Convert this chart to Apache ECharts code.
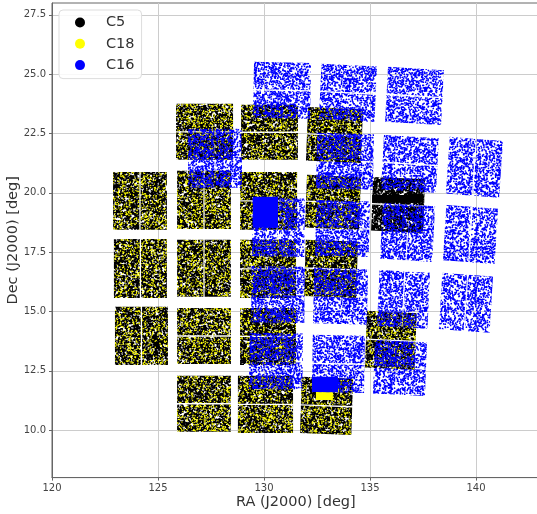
<!DOCTYPE html>
<html><head><meta charset="utf-8">
<style>html,body{margin:0;padding:0;background:#fff}#c{width:537px;height:514px}</style>
<script src="https://cdn.jsdelivr.net/npm/echarts@6/dist/echarts.min.js"></script>
</head><body><div id="c"></div>
<script>
// The reference holds many thousands of individual stars, which cannot be read one by one.
// The speckle inside a footprint is a decorative fill texture, not star positions.
const raTicks = [120, 125, 130, 135, 140];
const decTicks = [10, 12.5, 15, 17.5, 20, 22.5, 25, 27.5];
const campaigns = ['C5', 'C18', 'C16'];
// Module footprint: [raWest, raEast, decSouth, decNorth, skew, split] split: 0 none, 1 vertical gap, 2 horizontal gap
const c18Modules = [
  [122.88,125.42,18.44,20.88,0,1],[122.92,125.42,15.57,18.06,0,1],[122.97,125.47,12.75,15.2,0,1],
  [125.85,128.54,21.39,23.75,0,2],[125.90,128.44,18.48,20.93,0,1],[125.90,128.44,15.62,18.02,0,1],
  [125.90,128.44,12.79,15.15,0,2],[125.90,128.44,9.93,12.29,0,2],
  [128.92,131.60,21.39,23.71,0,2],[128.87,131.56,18.44,20.88,0,2],[128.87,131.51,15.57,18.02,0,2],
  [128.87,131.51,12.75,15.15,0,2],[128.77,131.37,9.88,12.29,0,2],
  [131.98,134.67,21.26,23.62,0.1,2],[131.93,134.58,18.44,20.76,0.1,2],[131.89,134.43,15.57,18.02,0.08,2],
  [131.70,134.20,9.80,12.25,0.08,2],[134.76,137.20,12.54,15.03,0.1,2]
];
const c5OnlyModules = [[135.05,137.60,18.31,20.67,0.1,2]];
const c16Modules = [
  [129.48,132.22,23.12,25.52,0.05,2],[132.59,135.33,22.99,25.44,0.12,2],[135.71,138.49,22.86,25.31,0.14,2],
  [126.42,128.96,20.21,22.70,0,1],[132.45,135.19,20.13,22.53,0.06,2],[135.52,138.25,20.0,22.44,0.14,2],
  [138.58,141.27,19.79,22.36,0.18,1],[129.43,131.93,17.30,19.79,0.03,1],[132.41,135.0,17.30,19.70,0.06,2],
  [135.47,138.07,17.09,19.58,0.14,1],[138.44,141.04,17.0,19.49,0.16,1],[129.39,131.93,14.52,16.92,0.03,2],
  [132.31,134.91,14.44,16.84,0.06,2],[135.33,137.83,14.27,16.75,0.12,1],[138.25,140.80,14.10,16.63,0.16,1],
  [129.29,131.84,11.70,14.10,0.03,2],[132.26,134.76,11.57,14.02,0.04,2],[135.14,137.69,11.44,13.80,0.1,2]
];
// Regions where points merge into solid colour: [raWest, raEast, decSouth, decNorth]
const c5Dense = [[135.1,137.5,19.58,19.91]];
const c18Dense = [[132.45,133.25,11.27,11.65]];
const c16Dense = [[129.48,130.66,18.53,19.83],[132.26,133.49,11.61,12.25]];

function tile(color, count, radius, seed) {
  const size = 220, cv = document.createElement('canvas');
  cv.width = cv.height = size;
  const g = cv.getContext('2d');
  g.fillStyle = color;
  let s = seed;
  const next = () => {
    s = (s + 0x6D2B79F5) | 0;
    let t = Math.imul(s ^ (s >>> 15), 1 | s);
    t = (t + Math.imul(t ^ (t >>> 7), 61 | t)) ^ t;
    return ((t ^ (t >>> 14)) >>> 0) / 4294967296;
  };
  g.beginPath();
  for (let i = 0; i < count; i++) {
    const x = next() * size, y = next() * size;
    for (const px of x > size - 2 ? [x, x - size] : [x]) for (const py of y > size - 2 ? [y, y - size] : [y]) {
      g.moveTo(px + radius, py);
      g.arc(px, py, radius, 0, 6.3);
    }
  }
  g.fill();
  return { image: cv, repeat: 'repeat' };
}
const fills = {
  C5: tile('#000000', 30000, 0.95, 11),
  C18: tile('#ffff00', 8000, 0.72, 23),
  C16: tile('#0000ff', 17000, 0.85, 37)
};
const solid = { C5: '#000000', C18: '#ffff00', C16: '#0000ff' };
const gapRA = 0.03, gapDec = 0.03;

function mid(a, b, t) { return [a[0] + (b[0] - a[0]) * t, a[1] + (b[1] - a[1]) * t]; }
function makeRender(name) {
  return function (params, api) {
    const W = api.value(0), E = api.value(1), S = api.value(2), N = api.value(3);
    const k = api.value(4) || 0, split = api.value(5), dense = api.value(6) === 1;
    const style = { fill: dense ? solid[name] : fills[name] };
    const nw = [W + k, N], ne = [E, N - k], se = [E - k, S], sw = [W, S + k];
    let polys = [[nw, ne, se, sw]];
    if (split === 1) {
      const t0 = 0.5 - gapRA / (E - W), t1 = 0.5 + gapRA / (E - W);
      polys = [[nw, mid(nw, ne, t0), mid(sw, se, t0), sw], [mid(nw, ne, t1), ne, se, mid(sw, se, t1)]];
    } else if (split === 2) {
      const t0 = 0.5 - gapDec / (N - S), t1 = 0.5 + gapDec / (N - S);
      polys = [[nw, ne, mid(ne, se, t0), mid(nw, sw, t0)], [mid(nw, sw, t1), mid(ne, se, t1), se, sw]];
    }
    return { type: 'group', children: polys.map(p => ({ type: 'polygon', shape: { points: p.map(q => api.coord(q)) }, style })) };
  };
}
const rows = (mods, dense) => mods.map(m => m.concat([0]))
  .concat(dense.map(d => [d[0], d[1], d[2], d[3], 0, 0, 1]));
const seriesData = {
  C5: rows(c18Modules.concat(c5OnlyModules), c5Dense),
  C18: rows(c18Modules, c18Dense),
  C16: rows(c16Modules, c16Dense)
};
const axisText = { color: '#444', fontFamily: 'DejaVu Sans', fontSize: 10 };
const nameText = { color: '#333', fontFamily: 'DejaVu Sans', fontSize: 14.5 };
const chart = echarts.init(document.getElementById('c'), null, { renderer: 'canvas' });
chart.setOption({
  animation: false,
  backgroundColor: '#fff',
  grid: { left: 52, top: 3, width: 487.6, height: 474.6, show: true, borderColor: '#666', borderWidth: 1, containLabel: false, outerBoundsMode: 'none' },
  legend: {
    left: 59, top: 10, orient: 'vertical', padding: [5, 7, 6, 16],
    itemWidth: 10, itemHeight: 10, itemGap: 6.3,
    backgroundColor: 'rgba(255,255,255,0.85)', borderColor: '#ddd', borderWidth: 1, borderRadius: 4,
    textStyle: { fontFamily: 'DejaVu Sans', fontSize: 14.5, color: '#333', padding: [0, 0, 0, 16] },
    data: campaigns.map(n => ({ name: n, icon: 'circle', itemStyle: { color: solid[n] } }))
  },
  xAxis: {
    type: 'value', min: 120, max: 143, interval: 5,
    name: 'RA (J2000) [deg]', nameLocation: 'middle', nameGap: 17, nameMoveOverlap: false, nameTextStyle: nameText,
    axisLine: { onZero: false, lineStyle: { color: '#666' } },
    axisTick: { show: true, length: 3, lineStyle: { color: '#666' }, customValues: raTicks },
    axisLabel: { ...axisText, margin: 6, customValues: raTicks, formatter: v => String(v) },
    splitLine: { show: true, lineStyle: { color: '#ccc', width: 1 } }
  },
  yAxis: {
    type: 'value', min: 8, max: 28,
    name: 'Dec (J2000) [deg]', nameLocation: 'middle', nameGap: 31, nameMoveOverlap: false, nameTextStyle: nameText,
    axisLine: { onZero: false, lineStyle: { color: '#666' } },
    axisTick: { show: true, length: 3, lineStyle: { color: '#666' }, customValues: decTicks },
    axisLabel: { ...axisText, margin: 6, customValues: decTicks, formatter: v => Number(v).toFixed(1) },
    splitLine: { show: true, lineStyle: { color: '#ccc', width: 1 } }
  },
  series: campaigns.map((n, i) => ({
    name: n, type: 'custom', coordinateSystem: 'cartesian2d', clip: true, silent: true, z: 2 + i,
    itemStyle: { color: solid[n] },
    encode: { x: [0, 1], y: [2, 3] },
    renderItem: makeRender(n),
    data: seriesData[n]
  }))
});
</script></body></html>
